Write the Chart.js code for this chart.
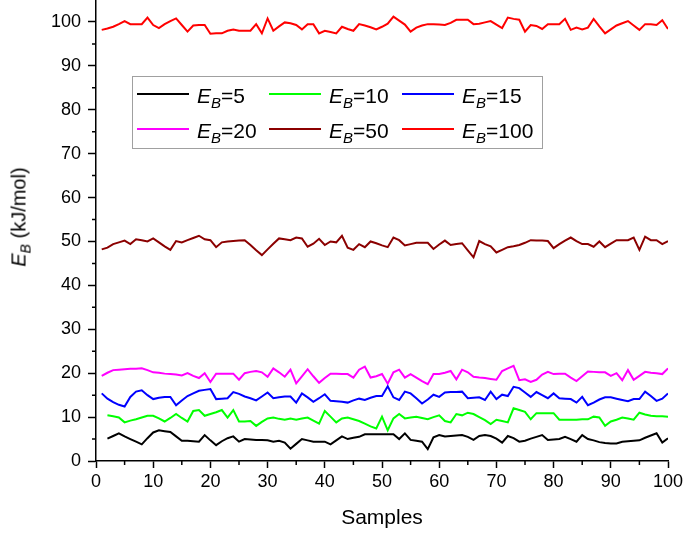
<!DOCTYPE html>
<html>
<head>
<meta charset="utf-8">
<script src="https://cdn.jsdelivr.net/npm/chart.js@4.4.1/dist/chart.umd.min.js"></script>
<style>
  body { margin: 0; background: #fff; }
  #wrap { position: relative; width: 685px; height: 534px; font-family: "Liberation Sans", Arial, sans-serif; color: #000; }
  #chart { position: absolute; left: 0; top: 0; }
  #ytitle { position: absolute; left: 19px; top: 217px; transform: translate(-50%, -50%) rotate(-90deg); white-space: nowrap; font-size: 20px; }
  .sub { font-size: 14px; font-style: italic; position: relative; top: 5px; }
  #legend { position: absolute; left: 132px; top: 76px; width: 411px; height: 73px; border: 1.5px solid #a0a0a0; box-sizing: border-box; }
  .lg-line { position: absolute; height: 2px; }
  .lg-text { position: absolute; font-size: 21px; line-height: 21px; white-space: nowrap; }
</style>
</head>
<body>
<div id="wrap">
  <canvas id="chart" width="685" height="534"></canvas>
  <div id="ytitle"><i>E</i><span class="sub">B</span> (kJ/mol)</div>
  <div id="legend"></div>
</div>
<script>
// sample index (x)
const samples = [1,2,3,4,5,6,7,8,9,10,11,12,13,14,15,16,17,18,19,20,
  21,22,23,24,25,26,27,28,29,30,31,32,33,34,35,36,37,38,39,40,
  41,42,43,44,45,46,47,48,49,50,51,52,53,54,55,56,57,58,59,60,
  61,62,63,64,65,66,67,68,69,70,71,72,73,74,75,76,77,78,79,80,
  81,82,83,84,85,86,87,88,89,90,91,92,93,94,95,96,97,98,99,100];

const eb5 = [null,5.1,5.7,6.3,5.6,5.0,4.4,3.8,5.2,6.5, 7.0,6.8,6.6,5.6,4.6,4.6,4.5,4.4,5.9,4.7,
  3.6,4.5,5.2,5.6,4.4,5.0,4.9,4.8,4.8,4.7, 4.4,4.6,4.2,2.8,3.9,5.0,4.7,4.4,4.4,4.4,
  3.8,4.7,5.6,5.0,5.3,5.5,6.1,6.1,6.1,6.1, 6.1,6.1,5.0,6.3,4.8,4.6,4.4,2.7,5.4,5.9,
  5.6,5.7,5.8,5.9,5.5,4.8,5.7,5.9,5.7,5.1, 4.2,5.7,5.2,4.4,4.6,5.1,5.5,5.9,4.8,4.9,
  5.0,5.5,5.0,4.4,5.9,5.0,4.7,4.3,4.1,4.0, 4.0,4.4,4.5,4.6,4.7,5.3,5.8,6.3,4.2,5.2];

const eb10 = [null,10.4,10.2,9.9,8.8,9.2,9.5,9.9,10.3,10.3, 9.7,9.0,9.8,10.7,9.8,9.0,11.4,11.6,10.3,10.7,
  11.1,11.6,9.9,11.6,9.0,9.0,9.1,8.0,8.9,9.7, 9.9,9.6,9.4,9.7,9.4,9.7,9.9,9.2,8.5,11.4,
  10.1,8.8,9.7,9.9,9.5,9.1,8.5,7.9,7.4,10.1, 7.0,9.7,10.7,9.7,9.9,10.1,9.8,9.5,10.0,10.4,
  9.1,8.8,10.7,10.4,11.0,10.7,10.0,9.3,8.4,9.4, 9.1,8.8,12.0,11.6,11.2,9.5,10.9,10.9,10.9,10.9,
  9.4,9.4,9.4,9.4,9.5,9.5,10.1,9.9,8.0,9.0, 9.4,9.9,9.7,9.4,11.0,10.6,10.3,10.2,10.2,10.1];

const eb15 = [15.4,14.2,13.4,12.8,12.4,14.6,15.8,16.1,15.0,14.1, 14.4,14.6,14.6,12.7,13.8,14.8,15.4,16.0,16.2,16.4,
  14.1,14.2,14.3,15.7,15.3,14.7,14.3,13.8,14.7,15.6, 14.3,14.5,14.7,14.7,13.3,15.4,14.5,13.5,14.3,15.2,
  13.7,13.6,13.5,13.3,13.8,14.2,13.9,14.4,14.8,14.8, 17.0,14.5,13.9,15.8,15.4,14.3,13.1,14.0,15.1,14.6,
  15.6,15.7,15.7,15.8,14.3,14.4,14.5,13.9,15.8,14.1, 15.1,14.8,16.9,16.6,15.6,14.6,15.7,15.0,14.3,15.4,
  14.3,14.2,14.1,13.3,14.6,12.7,13.3,14.0,14.5,14.5, 14.2,13.9,13.6,14.1,14.1,15.8,14.8,13.7,14.2,15.4];

const eb20 = [19.4,20.1,20.7,20.8,20.9,21.0,21.0,21.1,20.7,20.2, 20.1,19.9,19.8,19.7,19.5,20.0,19.4,18.9,20.0,18.0,
  19.9,19.9,19.9,19.9,18.5,20.0,20.3,20.5,20.2,19.2, 21.1,20.2,19.2,20.8,17.7,19.3,20.9,19.3,17.8,18.9,
  19.9,19.9,19.8,19.8,19.0,20.8,21.5,19.0,19.3,19.8, 17.6,20.2,20.8,19.0,19.8,19.0,18.2,17.5,19.8,19.8,
  20.1,20.5,18.6,20.8,20.2,19.2,19.0,18.9,18.7,18.5, 20.5,21.1,21.7,18.4,18.6,18.0,18.5,19.7,20.3,19.8,
  19.9,19.9,19.0,18.2,19.3,20.4,20.3,20.2,20.2,19.4, 20.0,18.4,20.7,18.5,19.4,20.3,20.1,20.0,19.8,21.1];

const eb50 = [48.2,48.6,49.4,49.8,50.2,49.4,50.5,50.3,50.0,50.7, 49.8,48.9,48.1,50.1,49.8,50.3,50.8,51.3,50.5,50.3,
  48.7,49.8,50.0,50.1,50.2,50.3,49.2,48.0,46.9,48.2, 49.5,50.7,50.5,50.3,50.9,50.7,48.8,49.5,50.6,49.2,
  50.0,49.8,51.3,48.6,48.1,49.4,48.7,50.0,49.6,49.1, 48.7,50.9,50.3,49.1,49.4,49.7,49.7,49.7,48.3,49.3,
  50.2,49.2,49.4,49.6,48.0,46.4,50.1,49.4,48.9,47.5, 48.1,48.7,48.9,49.2,49.7,50.3,50.2,50.2,50.1,48.5,
  49.4,50.2,50.9,50.1,49.4,49.4,48.8,50.0,48.7,49.5, 50.3,50.3,50.3,50.9,48.1,51.1,50.3,50.3,49.4,50.1];

const eb100 = [98.2,98.5,98.9,99.5,100.2,99.5,99.5,99.5,101.0,99.3, 98.6,99.5,100.2,100.8,99.3,97.8,99.2,99.3,99.3,97.3,
  97.4,97.4,98.0,98.3,98.0,98.0,98.0,99.5,97.4,100.8, 98.0,99.0,99.9,99.7,99.3,98.3,99.5,99.5,97.4,98.0,
  97.7,97.4,98.9,98.4,98.0,99.5,99.2,98.8,98.3,98.9, 99.6,101.2,100.3,99.4,97.8,98.7,99.2,99.5,99.5,99.4,
  99.3,99.8,100.5,100.5,100.5,99.5,99.6,99.9,100.2,99.4, 98.6,101.0,100.7,100.5,97.8,99.3,99.1,98.4,99.5,99.5,
  99.5,100.7,98.2,98.7,98.3,98.7,100.7,99.0,97.4,98.3, 99.2,99.7,100.2,99.2,98.2,99.5,99.5,99.3,100.4,98.4];

const seriesNames = ["5", "10", "15", "20", "50", "100"];
const seriesValues = [eb5, eb10, eb15, eb20, eb50, eb100];
const seriesColors = ["#000000", "#00ff00", "#0000ff", "#ff00ff", "#8b0000", "#ff0000"];

const xMajor = [0, 10, 20, 30, 40, 50, 60, 70, 80, 90, 100];
const xMinor = [5, 15, 25, 35, 45, 55, 65, 75, 85, 95];
const yMajor = [0, 10, 20, 30, 40, 50, 60, 70, 80, 90, 100];
const yMinor = [5, 15, 25, 35, 45, 55, 65, 75, 85, 95];

const FONT = "'Liberation Sans', Arial, sans-serif";

// petits ticks intermédiaires
const minorTicks = {
  id: "minorTicks",
  afterDraw(chart) {
    const { ctx, scales: { x, y } } = chart;
    ctx.save();
    ctx.strokeStyle = "#000";
    ctx.lineWidth = 1.5;
    ctx.beginPath();
    xMinor.forEach(v => {
      const px = x.getPixelForValue(v);
      ctx.moveTo(px, x.top);
      ctx.lineTo(px, x.top + 4);
    });
    yMinor.forEach(v => {
      const py = y.getPixelForValue(v);
      ctx.moveTo(y.right, py);
      ctx.lineTo(y.right - 4, py);
    });
    ctx.stroke();
    ctx.restore();
  }
};

const datasets = seriesValues.map((vals, i) => ({
  label: "EB=" + seriesNames[i],
  data: samples.map((s, j) => ({ x: s, y: vals[j] })),
  borderColor: seriesColors[i],
  backgroundColor: seriesColors[i],
  borderWidth: 2,
  pointRadius: 0,
  tension: 0,
  fill: false
}));

new Chart(document.getElementById("chart").getContext("2d"), {
  type: "line",
  data: { datasets },
  options: {
    responsive: false,
    animation: false,
    layout: { padding: { left: 0, right: 17, top: 0, bottom: 0 } },
    plugins: { legend: { display: false }, tooltip: { enabled: false } },
    scales: {
      x: {
        type: "linear",
        min: 0,
        max: 100,
        afterFit: s => { s.height = 73; s.paddingLeft = 0; s.paddingRight = 0; },
        afterBuildTicks: s => { s.ticks = xMajor.map(v => ({ value: v })); },
        ticks: { font: { size: 18, family: FONT }, color: "#000", padding: 3, maxRotation: 0, autoSkip: false },
        grid: { display: true, drawOnChartArea: false, tickLength: 7, tickColor: "#000", tickWidth: 1.5 },
        border: { display: true, color: "#000", width: 1.5 },
        title: { display: true, text: "Samples", color: "#000", font: { size: 21, family: FONT }, padding: { top: 0, bottom: 3 } }
      },
      y: {
        min: 0,
        max: 105,
        afterFit: s => { s.width = 96; s.paddingTop = 0; s.paddingBottom = 0; },
        afterBuildTicks: s => { s.ticks = yMajor.map(v => ({ value: v })); },
        ticks: { font: { size: 18, family: FONT }, color: "#000", padding: 7 },
        grid: { display: true, drawOnChartArea: false, tickLength: 8, tickColor: "#000", tickWidth: 1.5 },
        border: { display: true, color: "#000", width: 1.5 }
      }
    }
  },
  plugins: [minorTicks]
});

// légende en HTML pour avoir l'indice B
const legendEl = document.getElementById("legend");
const colX = [4, 136, 269];
const rowY = [8, 43];
seriesNames.forEach((name, i) => {
  const cx = colX[i % 3];
  const ry = rowY[Math.floor(i / 3)];
  const line = document.createElement("div");
  line.className = "lg-line";
  line.style.left = cx + "px";
  line.style.width = "52px";
  line.style.top = (ry + 8) + "px";
  line.style.background = seriesColors[i];
  legendEl.appendChild(line);
  const txt = document.createElement("div");
  txt.className = "lg-text";
  txt.style.left = (cx + 60) + "px";
  txt.style.top = ry + "px";
  txt.innerHTML = `<i>E</i><span class="sub" style="font-size:15px">B</span>=${name}`;
  legendEl.appendChild(txt);
});
</script>
</body>
</html>
